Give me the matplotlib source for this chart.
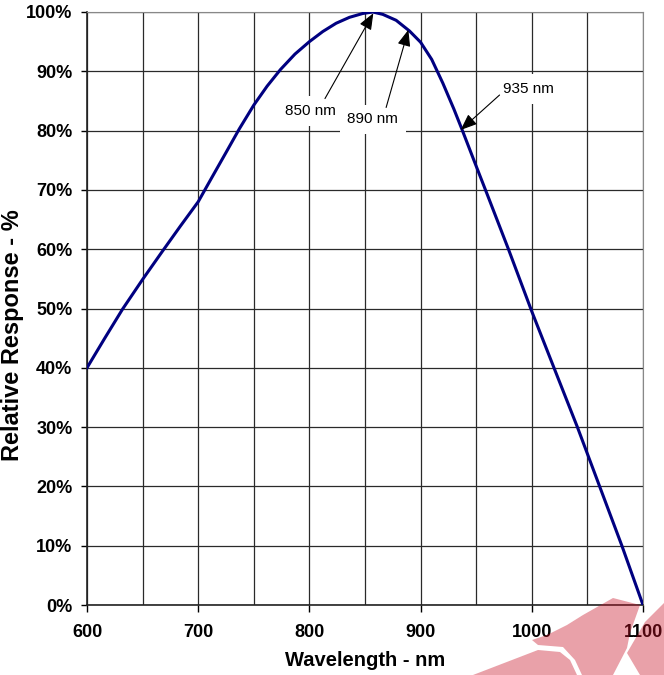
import numpy as np
import matplotlib
matplotlib.use('Agg')
import matplotlib.pyplot as plt
from matplotlib.patches import Polygon

plt.rcParams['font.family'] = ['Liberation Sans', 'DejaVu Sans']

# spectral response
wavelength = [600, 616, 632, 650, 668, 684, 700, 712, 725, 737, 750, 762, 774,
              787, 800, 812, 824, 836, 848, 857, 866, 878, 890, 900, 910, 920,
              930, 937, 950, 960, 979, 1000, 1021, 1041, 1060, 1081, 1100]
response = [40, 45, 49.9, 54.9, 59.7, 63.9, 68, 72, 76.3, 80.3, 84.3, 87.5, 90.3,
            92.9, 95.0, 96.7, 98.1, 99.1, 99.75, 100, 99.6, 98.6, 96.8, 94.9, 92.0,
            88.0, 83.6, 80.3, 74, 69.2, 60, 49.5, 39.5, 30, 20.5, 10, 0]

x_ticks = [600, 700, 800, 900, 1000, 1100]
y_ticks = [0, 10, 20, 30, 40, 50, 60, 70, 80, 90, 100]

# annotations: label, text centre (nm, %), arrow start, arrow tip
notes = [("850 nm", (801, 83.3), (814, 85.4), (857.5, 99.8)),
         ("890 nm", (857, 81.9), (869, 83.9), (889, 97.0)),
         ("935 nm", (997, 87.0), (971, 86.0), (936, 80.1))]

W, H = 664, 675
fig = plt.figure(figsize=(W / 100, H / 100), dpi=100)
ax = fig.add_axes([87 / W, 1 - 605 / H, (643 - 87) / W, (605 - 12) / H])

ax.plot(wavelength, response, color='#000080', lw=2.2, zorder=3,
        solid_joinstyle='round')

ax.set_xlim(600, 1100)
ax.set_ylim(0, 100)
ax.set_xticks(x_ticks)
ax.set_xticks(np.arange(650, 1100, 100), minor=True)
ax.set_yticks(y_ticks)
ax.set_yticklabels([f"{v}%" for v in y_ticks])
ax.tick_params(axis='x', which='minor', length=0)
ax.tick_params(axis='both', which='major', direction='out', width=1,
               labelsize=13)
ax.tick_params(axis='x', length=5, pad=9)
ax.tick_params(axis='y', length=4, pad=6.5)
for lab in ax.get_xticklabels() + ax.get_yticklabels():
    lab.set_fontweight('bold')

ax.grid(True, which='both', color='#2a2a2a', lw=0.9, zorder=0)
ax.set_axisbelow(True)
for s in ['top', 'right']:
    ax.spines[s].set_color('#888888')
for s in ['left', 'bottom']:
    ax.spines[s].set_color('#222222')
    ax.spines[s].set_linewidth(1.2)

# axis titles placed by pixel position
fig.text(365 / W, 1 - 660 / H, "Wavelength - nm", fontsize=14.5,
         fontweight='bold', ha='center', va='center')
fig.text(13 / W, 1 - 335 / H, "Relative Response - %", fontsize=17,
         fontweight='bold', ha='center', va='center', rotation=90)

for label, pos, start, tip in notes:
    ax.text(pos[0], pos[1], label, fontsize=11, ha='center', va='center', zorder=4,
            bbox=dict(boxstyle='square,pad=0.5', fc='white', ec='none'))
    ax.annotate('', xy=tip, xytext=start, zorder=5,
                arrowprops=dict(arrowstyle='-|>,head_length=1.0,head_width=0.4',
                                mutation_scale=10, color='black', lw=0.8,
                                shrinkA=0, shrinkB=0))

# faint red logo watermark in the bottom right corner (pixel coords)
logo = [
    [(532, 640), (547, 635), (567, 625), (583, 615), (613, 598), (640, 605),
     (630, 633), (627, 648), (613, 675), (582, 675), (575, 660), (563, 647),
     (538, 645)],
    [(473, 675), (538, 650), (560, 652), (570, 660), (577, 675)],
    [(627, 653), (645, 622), (664, 603), (664, 675), (640, 675)],
]
for pts in logo:
    fig.patches.append(Polygon([(x / W, 1 - y / H) for x, y in pts],
                               closed=True, transform=fig.transFigure,
                               fc='#c81428', ec='none', alpha=0.4, zorder=10))

fig.savefig('out.png', dpi=100)
